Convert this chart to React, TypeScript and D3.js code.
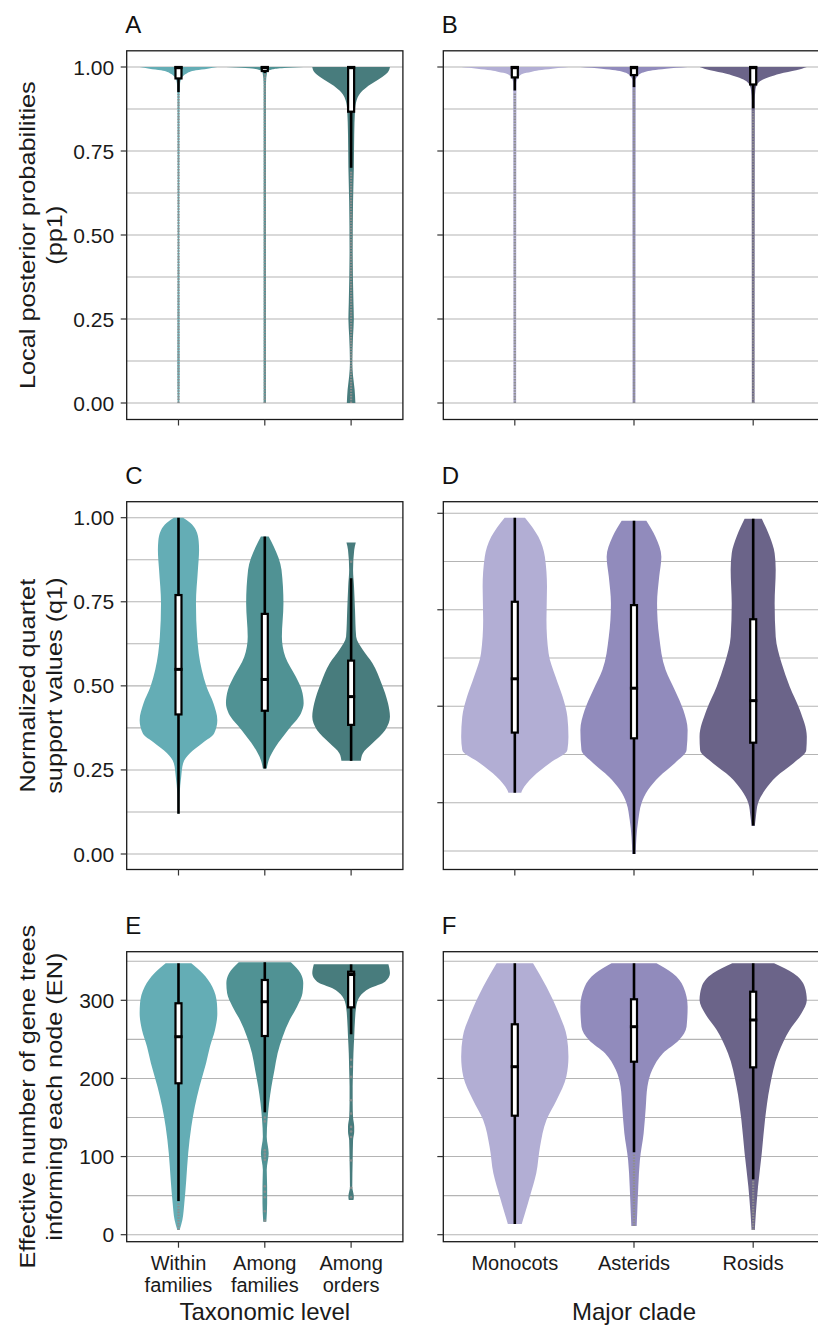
import React from 'react';
import * as d3 from 'd3';

type Pt = [number, number]; // [value, relative half-width]
type Box = [number, number, number, number, number]; // lo, q1, median, q3, hi

// ---------- categories & colours ----------
const taxonomicLevels = ['Within families', 'Among families', 'Among orders'];
const taxonomicTickLines = [['Within', 'families'], ['Among', 'families'], ['Among', 'orders']];
const majorClades = ['Monocots', 'Asterids', 'Rosids'];
const taxonomicColors = ['#64adb5', '#509294', '#487c7d'];
const cladeColors = ['#b2aed4', '#918bbc', '#6b6489'];

// ---------- axis ticks ----------
const probTicks = [0, 0.25, 0.5, 0.75, 1];
const probMinor = [0.125, 0.375, 0.625, 0.875];
const enTicks = [0, 100, 200, 300];
const enMinor = [50, 150, 250, 350];
const dAxisTicks = [0.25, 0.5, 0.75, 1];
const dAxisMinor = [0.125, 0.375, 0.625, 0.875];

// ---------- A: local posterior probabilities by taxonomic level ----------
const pp1Within: Pt[] = [[0, 0.02], [0.1, 0.03], [0.5, 0.02], [0.9, 0.025], [0.95, 0.04], [0.97, 0.1], [0.98, 0.2], [0.99, 0.45], [0.995, 0.75], [1.0, 1.0]];
const pp1AmongFam: Pt[] = [[0, 0.03], [0.95, 0.03], [0.985, 0.06], [0.993, 0.2], [0.997, 0.5], [1.0, 1.0]];
const pp1AmongOrd: Pt[] = [[0, 0.11], [0.04, 0.09], [0.08, 0.05], [0.12, 0.03], [0.2, 0.05], [0.25, 0.07], [0.3, 0.06], [0.45, 0.04], [0.6, 0.05], [0.7, 0.07], [0.8, 0.08], [0.87, 0.1], [0.9, 0.14], [0.92, 0.22], [0.94, 0.4], [0.955, 0.6], [0.97, 0.8], [0.985, 0.95], [1.0, 1.0]];
const pp1TaxBoxes: Box[] = [[0.925, 0.966, 0.998, 1.0, 1.0], [0.982, 0.988, 0.998, 1.0, 1.0], [0.70, 0.867, 0.998, 1.0, 1.0]];
const pp1TaxOutlierSpans: Pt[] = [[0, 0.92], [0, 0.98], [0, 0.69]];

// ---------- B: local posterior probabilities by clade ----------
const pp1Monocots: Pt[] = [[0, 0.025], [0.95, 0.03], [0.97, 0.07], [0.98, 0.15], [0.985, 0.3], [0.99, 0.45], [0.995, 0.7], [1, 1]];
const pp1Asterids: Pt[] = [[0, 0.025], [0.96, 0.03], [0.975, 0.08], [0.985, 0.2], [0.99, 0.35], [0.995, 0.6], [1, 1]];
const pp1Rosids: Pt[] = [[0, 0.025], [0.9, 0.03], [0.93, 0.04], [0.95, 0.08], [0.96, 0.15], [0.97, 0.3], [0.98, 0.5], [0.99, 0.8], [1, 1]];
const pp1CladeBoxes: Box[] = [[0.93, 0.969, 0.998, 1, 1], [0.94, 0.976, 0.998, 1, 1], [0.877, 0.948, 0.998, 1, 1]];
const pp1CladeOutlierSpans: Pt[] = [[0, 0.925], [0, 0.935], [0, 0.87]];

// ---------- C: normalized quartet support by taxonomic level ----------
const q1Within: Pt[] = [[0.12, 0.02], [0.18, 0.03], [0.23, 0.07], [0.27, 0.12], [0.30, 0.3], [0.33, 0.62], [0.359, 0.92], [0.398, 1.0], [0.448, 0.9], [0.498, 0.72], [0.547, 0.6], [0.646, 0.48], [0.745, 0.45], [0.845, 0.5], [0.904, 0.53], [0.93, 0.52], [0.963, 0.45], [0.985, 0.3], [1.0, 0.12]];
const q1AmongFam: Pt[] = [[0.254, 0.05], [0.279, 0.1], [0.319, 0.28], [0.369, 0.6], [0.418, 0.93], [0.448, 1.0], [0.488, 0.95], [0.527, 0.8], [0.586, 0.53], [0.646, 0.44], [0.745, 0.48], [0.845, 0.43], [0.914, 0.23], [0.944, 0.1]];
const q1AmongOrd: Pt[] = [[0.277, 0.25], [0.299, 0.3], [0.329, 0.55], [0.369, 0.88], [0.408, 1.0], [0.448, 0.95], [0.508, 0.78], [0.567, 0.55], [0.607, 0.3], [0.646, 0.13], [0.726, 0.1], [0.795, 0.075], [0.845, 0.05], [0.904, 0.08], [0.926, 0.12]];
const q1TaxBoxes: Box[] = [[0.12, 0.415, 0.549, 0.77, 1.0], [0.254, 0.426, 0.519, 0.714, 0.944], [0.277, 0.384, 0.468, 0.575, 0.82]];
const q1TaxOutliers: number[][] = [[], [], [0.869]];

// ---------- D: normalized quartet support by clade ----------
const q1Monocots: Pt[] = [[0.182, 0.12], [0.19, 0.14], [0.23, 0.34], [0.27, 0.65], [0.309, 0.98], [0.349, 1.0], [0.408, 0.98], [0.468, 0.89], [0.527, 0.76], [0.597, 0.63], [0.696, 0.59], [0.795, 0.6], [0.884, 0.56], [0.943, 0.44], [1.0, 0.19]];
const q1Asterids: Pt[] = [[0, 0.03], [0.101, 0.08], [0.151, 0.14], [0.19, 0.26], [0.23, 0.47], [0.27, 0.76], [0.309, 0.98], [0.369, 1.0], [0.428, 0.92], [0.488, 0.76], [0.547, 0.59], [0.646, 0.47], [0.745, 0.43], [0.825, 0.47], [0.884, 0.51], [0.943, 0.4], [0.991, 0.23]];
const q1Rosids: Pt[] = [[0.083, 0.03], [0.111, 0.05], [0.151, 0.09], [0.19, 0.22], [0.23, 0.43], [0.27, 0.75], [0.309, 0.99], [0.349, 1.0], [0.428, 0.87], [0.498, 0.68], [0.567, 0.53], [0.646, 0.42], [0.745, 0.4], [0.845, 0.42], [0.894, 0.4], [0.943, 0.31], [0.997, 0.16]];
const q1CladeBoxes: Box[] = [[0.182, 0.361, 0.521, 0.75, 1.0], [0.0, 0.344, 0.493, 0.74, 0.991], [0.085, 0.331, 0.456, 0.698, 0.997]];

// ---------- E: effective number of gene trees by taxonomic level ----------
const enWithin: Pt[] = [[6, 0.03], [18.8, 0.1], [40.2, 0.15], [70, 0.2], [104.2, 0.25], [138.2, 0.33], [163.8, 0.42], [189.4, 0.54], [219.4, 0.71], [240.6, 0.81], [262, 0.94], [283.4, 1.0], [296.2, 0.99], [317.4, 0.87], [334.6, 0.62], [347.4, 0.33]];
const enAmongFam: Pt[] = [[16.6, 0.04], [40.2, 0.06], [61.5, 0.06], [82.8, 0.05], [104.2, 0.1], [125.5, 0.05], [146.8, 0.07], [168.2, 0.11], [189.4, 0.17], [211, 0.25], [232.2, 0.33], [253.4, 0.46], [274.8, 0.64], [291.8, 0.83], [309, 0.97], [321.8, 0.99], [334.6, 0.92], [348.7, 0.67]];
const enAmongOrd: Pt[] = [[44.4, 0.06], [48.6, 0.07], [61.5, 0.03], [95.5, 0.04], [121, 0.05], [132, 0.08], [138.2, 0.08], [150, 0.05], [168.2, 0.04], [189.4, 0.04], [211, 0.05], [232.2, 0.06], [253.4, 0.08], [274.8, 0.1], [291.8, 0.13], [304.6, 0.22], [315.3, 0.48], [323.8, 0.875], [334.6, 1.0], [346, 0.96]];
const enTaxBoxes: Box[] = [[43, 193.8, 253.4, 296.2, 347.4], [156.6, 254.3, 298.2, 326, 348.7], [256.5, 291, 333, 336.6, 346]];
const enTaxOutlierSpans: Pt[] = [[6, 42], [0, 0], [0, 0]];
const enTaxOutliers: number[][] = [[], [18, 30, 48, 55, 62, 96, 100, 104, 108, 145, 150], [48, 60, 95, 125, 132, 138, 155, 172, 202, 215, 224]];

// ---------- F: effective number of gene trees by clade ----------
const enMonocots: Pt[] = [[13.7, 0.13], [27.4, 0.19], [48.6, 0.28], [78.6, 0.4], [112.6, 0.47], [146.8, 0.59], [172.4, 0.78], [202.2, 0.96], [227.8, 1.0], [253.4, 0.97], [283.4, 0.82], [317.4, 0.59], [347.4, 0.34]];
const enAsterids: Pt[] = [[11.1, 0.05], [27.4, 0.06], [61.5, 0.08], [95.6, 0.11], [129.7, 0.18], [163.8, 0.22], [189.4, 0.25], [211, 0.34], [232.2, 0.54], [249.2, 0.84], [266.2, 0.98], [291.8, 1.0], [317.4, 0.92], [334.6, 0.72], [347.4, 0.42]];
const enRosids: Pt[] = [[6, 0.03], [27.4, 0.05], [61.5, 0.09], [104.2, 0.16], [146.8, 0.22], [189.4, 0.31], [232.2, 0.47], [262, 0.68], [283.4, 0.9], [300.4, 1.0], [317.4, 0.96], [334.6, 0.75], [347.4, 0.39]];
const enCladeBoxes: Box[] = [[13.7, 152.3, 215, 269.3, 347.4], [105.5, 221.4, 266.2, 301.3, 347.4], [70.9, 214.2, 274.8, 311, 347.4]];
const enCladeOutlierSpans: Pt[] = [[0, 0], [11, 104], [6, 70]];

// ---------- layout ----------
const FONT = '"Liberation Sans", Arial, Helvetica, sans-serif';
const COLS = [{ left: 126.7, right: 402.9 }, { left: 443.3, right: 824.7 }];
const ROWS = [
  { top: 50.8, bottom: 419.5, dom: [0, 1], rng: [403, 67] },
  { top: 501.7, bottom: 869.5, dom: [0, 1], rng: [854, 517.7] },
  { top: 951.7, bottom: 1241.7, dom: [0, 300], rng: [1234.7, 1000.3] },
];
const dAxisRange = [802.7, 513.3];

type PanelDef = {
  label: string; col: number; row: number; cats: string[]; colors: string[];
  shapes: Pt[][]; boxes: Box[]; spans?: Pt[]; points?: number[][];
  ticks: number[]; minor: number[]; tickLabels: boolean; fmt: (v: number) => string;
  axisScale?: d3.ScaleLinear<number, number>;
};

const fmtProb = (v: number) => d3.format('.2f')(v);
const fmtInt = (v: number) => d3.format('d')(v);

const panels: PanelDef[] = [
  { label: 'A', col: 0, row: 0, cats: taxonomicLevels, colors: taxonomicColors, shapes: [pp1Within, pp1AmongFam, pp1AmongOrd], boxes: pp1TaxBoxes, spans: pp1TaxOutlierSpans, ticks: probTicks, minor: probMinor, tickLabels: true, fmt: fmtProb },
  { label: 'B', col: 1, row: 0, cats: majorClades, colors: cladeColors, shapes: [pp1Monocots, pp1Asterids, pp1Rosids], boxes: pp1CladeBoxes, spans: pp1CladeOutlierSpans, ticks: probTicks, minor: probMinor, tickLabels: false, fmt: fmtProb },
  { label: 'C', col: 0, row: 1, cats: taxonomicLevels, colors: taxonomicColors, shapes: [q1Within, q1AmongFam, q1AmongOrd], boxes: q1TaxBoxes, points: q1TaxOutliers, ticks: probTicks, minor: probMinor, tickLabels: true, fmt: fmtProb },
  { label: 'D', col: 1, row: 1, cats: majorClades, colors: cladeColors, shapes: [q1Monocots, q1Asterids, q1Rosids], boxes: q1CladeBoxes, ticks: dAxisTicks, minor: dAxisMinor, tickLabels: false, fmt: fmtProb, axisScale: d3.scaleLinear().domain([0.25, 1]).range(dAxisRange) },
  { label: 'E', col: 0, row: 2, cats: taxonomicLevels, colors: taxonomicColors, shapes: [enWithin, enAmongFam, enAmongOrd], boxes: enTaxBoxes, spans: enTaxOutlierSpans, points: enTaxOutliers, ticks: enTicks, minor: enMinor, tickLabels: true, fmt: fmtInt },
  { label: 'F', col: 1, row: 2, cats: majorClades, colors: cladeColors, shapes: [enMonocots, enAsterids, enRosids], boxes: enCladeBoxes, spans: enCladeOutlierSpans, ticks: enTicks, minor: enMinor, tickLabels: false, fmt: fmtInt },
];

const yTitles = [
  ['Local posterior probabilities', '(pp1)'],
  ['Normalized quartet', 'support values (q1)'],
  ['Effective number of gene trees', 'informing each node (EN)'],
];
const xTitles = ['Taxonomic level', 'Major clade'];

function Panel({ p }: { p: PanelDef }) {
  const c = COLS[p.col];
  const r = ROWS[p.row];
  const y = d3.scaleLinear().domain(r.dom).range(r.rng);
  const ax = p.axisScale ?? y;
  const x = d3.scalePoint<string>().domain(p.cats).range([c.left, c.right]).padding(0.6);
  const hw = 0.45 * x.step();
  const gridVals = [...p.ticks, ...p.minor];
  return (
    <g>
      <text x={c.left - 1.5} y={r.top - 18} fontSize={24} fontFamily={FONT} fill="#111">{p.label}</text>
      {gridVals.map((v, i) => (
        <line key={'g' + i} x1={c.left} x2={c.right} y1={ax(v)} y2={ax(v)} stroke="#b4b4b4" strokeWidth={1.1} />
      ))}
      {p.shapes.map((s, i) => {
        const cx = x(p.cats[i])!;
        const area = d3.area<Pt>()
          .y(d => y(d[0]))
          .x0(d => cx - d[1] * hw)
          .x1(d => cx + d[1] * hw)
          .curve(d3.curveMonotoneY);
        return <path key={'v' + i} d={area(s) || ''} fill={p.colors[i]} />;
      })}
      {p.spans && p.spans.map((s, i) => s[1] > s[0] ? (
        <line key={'s' + i} x1={x(p.cats[i])} x2={x(p.cats[i])} y1={y(s[0])} y2={y(s[1])} stroke="#8e8e8e" strokeWidth={2.2} strokeDasharray="1.6 1.2" />
      ) : null)}
      {p.points && p.points.map((pts, i) => pts.map((v, j) => (
        <circle key={'o' + i + '-' + j} cx={x(p.cats[i])} cy={y(v)} r={1.3} fill="#8e8e8e" opacity={0.85} />
      )))}
      {p.boxes.map((b, i) => {
        const cx = x(p.cats[i])!;
        return (
          <g key={'b' + i}>
            <line x1={cx} x2={cx} y1={y(b[0])} y2={y(b[4])} stroke="#000" strokeWidth={2.6} />
            <rect x={cx - 3} width={6} y={y(b[3])} height={Math.max(1, y(b[1]) - y(b[3]))} fill="#fff" stroke="#000" strokeWidth={2.2} />
            <rect x={cx - 4.1} width={8.2} y={y(b[2]) - 1.5} height={3} fill="#000" />
          </g>
        );
      })}
      <rect x={c.left} y={r.top} width={c.right - c.left} height={r.bottom - r.top} fill="none" stroke="#1a1a1a" strokeWidth={1.3} />
      {p.ticks.map((v, i) => (
        <g key={'t' + i}>
          <line x1={c.left - 6} x2={c.left} y1={ax(v)} y2={ax(v)} stroke="#333" strokeWidth={1.2} />
          {p.tickLabels && (
            <text x={c.left - 12.5} y={ax(v)} dy="0.36em" textAnchor="end" fontSize={21} fontFamily={FONT} fill="#1a1a1a">{p.fmt(v)}</text>
          )}
        </g>
      ))}
      {p.cats.map((cat, i) => (
        <line key={'x' + i} x1={x(cat)} x2={x(cat)} y1={r.bottom} y2={r.bottom + 6} stroke="#333" strokeWidth={1.2} />
      ))}
    </g>
  );
}

export default function App() {
  const taxX = d3.scalePoint<string>().domain(taxonomicLevels).range([COLS[0].left, COLS[0].right]).padding(0.6);
  const cladeX = d3.scalePoint<string>().domain(majorClades).range([COLS[1].left, COLS[1].right]).padding(0.6);
  return (
    <svg width={818} height={1327} style={{ position: 'absolute', left: 0, top: 0, background: '#fff' }}>
      <rect width={818} height={1327} fill="#fff" />
      {panels.map(p => <Panel key={p.label} p={p} />)}
      {yTitles.map((lines, i) => {
        const cy = (ROWS[i].top + ROWS[i].bottom) / 2;
        return (
          <g key={'yt' + i} transform={`translate(35,${cy}) scale(1,1.15) rotate(-90)`}>
            <text x={0} y={0} textAnchor="middle" fontSize={22} fontFamily={FONT} fill="#1a1a1a">{lines[0]}</text>
            <text x={0} y={27} textAnchor="middle" fontSize={22} fontFamily={FONT} fill="#1a1a1a">{lines[1]}</text>
          </g>
        );
      })}
      {taxonomicLevels.map((cat, i) => (
        <text key={'tx' + i} textAnchor="middle" fontSize={20} fontFamily={FONT} fill="#1a1a1a">
          <tspan x={taxX(cat)} y={1270}>{taxonomicTickLines[i][0]}</tspan>
          <tspan x={taxX(cat)} y={1291.7}>{taxonomicTickLines[i][1]}</tspan>
        </text>
      ))}
      {majorClades.map((cat, i) => (
        <text key={'cx' + i} x={cladeX(cat)} y={1270} textAnchor="middle" fontSize={20} fontFamily={FONT} fill="#1a1a1a">{cat}</text>
      ))}
      <text x={taxX(taxonomicLevels[1])} y={1320} textAnchor="middle" fontSize={24} fontFamily={FONT} fill="#1a1a1a">{xTitles[0]}</text>
      <text x={cladeX(majorClades[1])} y={1320} textAnchor="middle" fontSize={24} fontFamily={FONT} fill="#1a1a1a">{xTitles[1]}</text>
    </svg>
  );
}
